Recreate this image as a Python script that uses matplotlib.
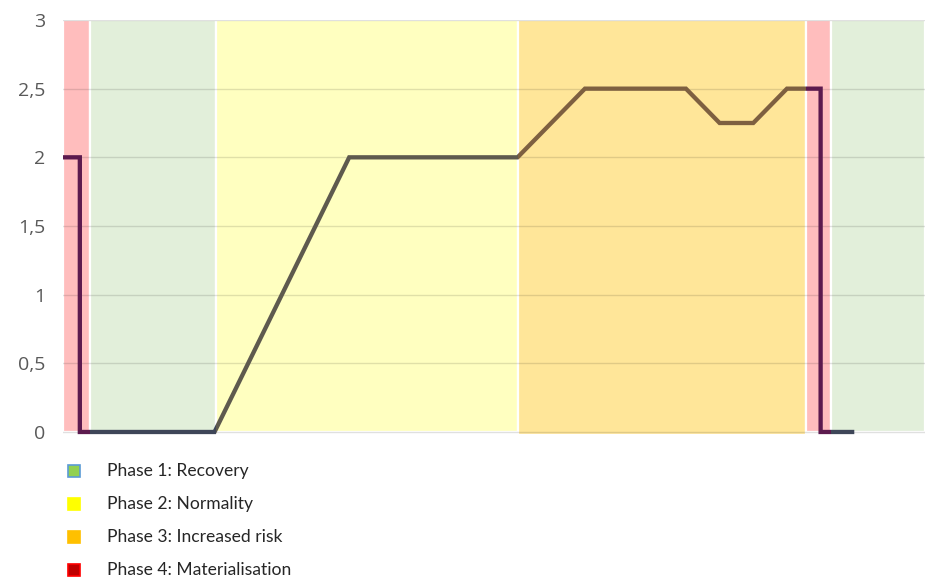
import matplotlib.pyplot as plt
from matplotlib.patches import Rectangle

# risk level line
line_x = [-0.5, 0, 0, 4, 8, 13, 15, 18, 19, 20, 21, 22, 22, 23]
line_y = [2, 2, 0, 0, 2, 2, 2.5, 2.5, 2.25, 2.25, 2.5, 2.5, 0, 0]

# background phase bands
band_edges = [-0.5, 0.3, 4.05, 13.0, 21.56, 22.3, 25.1]
band_phase = [4, 1, 2, 3, 4, 1]

phase_labels = ["Phase 1: Recovery", "Phase 2: Normality",
                "Phase 3: Increased risk", "Phase 4: Materialisation"]
yticks = [0, 0.5, 1, 1.5, 2, 2.5, 3]
ytick_labels = ["0", "0,5", "1", "1,5", "2", "2,5", "3"]

band_colors = {1: "#e2efda", 2: "#ffffc0", 3: "#ffe699", 4: "#ffbdbd"}
line_colors = {1: "#3e4658", 2: "#5e5a4e", 3: "#7e6040", 4: "#5c1a4e"}
legend_face = ["#92d050", "#ffff00", "#ffc000", "#c00000"]
legend_edge = ["#5b9bd5", "#ffff00", "#ffc000", "#ff0000"]

plt.rcParams["font.family"] = ["Lato", "DejaVu Sans"]

fig = plt.figure(figsize=(9.25, 5.78), dpi=100)
ax = fig.add_axes([63 / 925, 1 - 435 / 578, 862 / 925, 415 / 578])

for x0, x1, ph in zip(band_edges[:-1], band_edges[1:], band_phase):
    bottom = -0.022 if ph == 3 else 0
    ax.bar(x0, 3 - bottom, width=x1 - x0, bottom=bottom, align="edge",
           color=band_colors[ph], edgecolor="white", linewidth=1.6, zorder=1)

for t in yticks:
    ax.axhline(t, color="black", alpha=0.12, linewidth=1, zorder=2)

for x0, x1, ph in zip(band_edges[:-1], band_edges[1:], band_phase):
    ln, = ax.plot(line_x, line_y, color=line_colors[ph], linewidth=3.1,
                  solid_joinstyle="miter", solid_capstyle="butt", zorder=3)
    clip = Rectangle((x0, -1), x1 - x0, 5, transform=ax.transData)
    ln.set_clip_path(clip)

ax.set_xlim(band_edges[0], band_edges[-1])
ax.set_ylim(-0.022, 3.0)
ax.set_xticks([])
ax.set_yticks(yticks)
ax.set_yticklabels(ytick_labels, family=["Open Sans", "DejaVu Sans"])
ax.tick_params(axis="y", length=0, pad=13, labelsize=14, labelcolor="#595959")
for s in ax.spines.values():
    s.set_visible(False)

# legend
for i, lab in enumerate(phase_labels):
    yc = 471 + 33 * i
    fig.patches.append(Rectangle(((74 - 6) / 925, 1 - (yc + 6) / 578), 12 / 925, 12 / 578,
                                 transform=fig.transFigure, facecolor=legend_face[i],
                                 edgecolor=legend_edge[i], linewidth=1.2))
    fig.text(107 / 925, 1 - yc / 578, lab, fontsize=12.6, color="#262626",
             va="center", ha="left")

fig.savefig("out.png", dpi=100)
